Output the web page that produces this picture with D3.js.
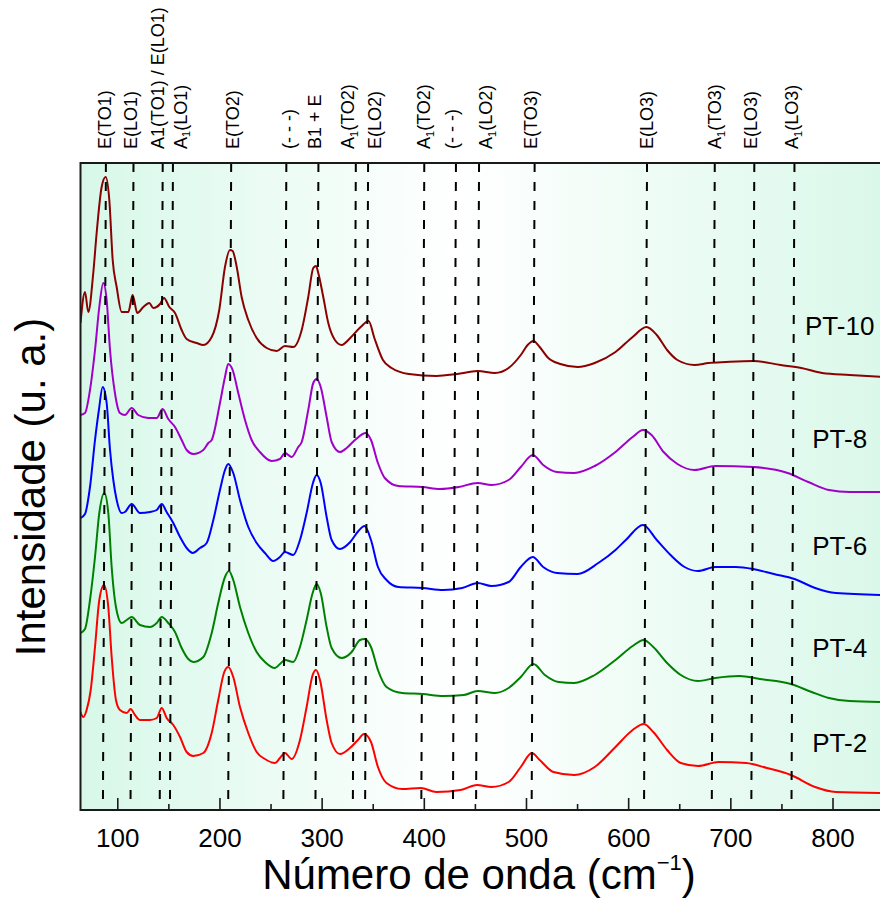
<!DOCTYPE html>
<html>
<head>
<meta charset="utf-8">
<script src="https://cdn.jsdelivr.net/npm/d3@7"></script>
<style>
  html, body { margin: 0; padding: 0; background: #fff; }
  svg { display: block; }
  text { font-family: "Liberation Sans", Arial, Helvetica, sans-serif; fill: #000; }
</style>
</head>
<body>
<svg id="chart" width="880" height="904"></svg>
<script>
// ---- Raman spectra of PT ceramics, stacked (wavenumber cm-1, intensity a.u.) ----
const sampleNames = ["PT-10", "PT-8", "PT-6", "PT-4", "PT-2"];
const sampleColors = ["#8b0000", "#a000c8", "#0000ff", "#008000", "#ff0000"];
// intensity at which each sample name is written
const sampleLabelLevel = [475, 362, 255, 153, 58];
const sampleLabelWavenumber = 807;

const pt10 = [[64,487],[68.4,518],[71.6,498],[76.5,537],[79.8,577],[84.7,623],[88.6,633],[92.2,610],[95.5,550],[99.4,523],[104.3,498],[110.8,498],[115,515],[119.6,497],[125.5,503],[131.3,507],[135.2,502],[141.8,506],[145.7,512],[150.9,503],[156.5,497],[163,480],[167.9,471],[177.7,467],[184.2,465],[192.4,473],[199.8,500],[205.4,543],[210.3,560],[212.9,559],[216.9,543],[221.7,513],[228.2,490],[236.4,472],[246.2,462],[256,459],[264.1,464],[272.2,463],[280.5,480],[286.9,513],[291.8,542],[294.5,544],[296.7,537],[301.6,513],[306.5,487],[313,470],[319.6,465],[328,472],[338.2,483],[346,489],[351.6,472],[360,450],[368.5,442],[385.4,436],[412.3,434],[432.5,436],[452.7,439],[469.6,437],[483,442],[494.9,455],[501.6,465],[507.3,469],[513.4,463],[521.8,452],[533.6,446],[550.5,443],[567.3,447],[587.6,458],[604.4,473],[617.9,483],[628,475],[638.1,460],[648.2,450],[665.1,445],[678.6,447],[695.5,448],[722.4,449],[749.3,445],[769.5,442],[789.8,437],[816.7,435],[850,433]];

const pt8 = [[64,395],[68.4,397],[73.3,420],[78.2,460],[82.4,503],[86.3,527],[89.6,510],[92.9,460],[97.7,417],[102.6,397],[107.5,395],[114.1,402],[120.5,395],[130.3,392],[138.6,392],[144.4,401],[149.9,391],[156.5,383],[163,370],[167.9,360],[174.4,356],[184.2,360],[189.1,367],[192.4,370],[200.5,407],[205.4,433],[208.6,446],[212.9,440],[218.4,417],[225,390],[231.5,370],[239.6,358],[251.1,349],[259.2,351],[264.1,357],[270.7,353],[277.1,363],[280.5,368],[286.9,400],[291.8,427],[295.1,431],[299.1,423],[304.9,393],[309.8,368],[318,358],[324.5,362],[332.6,370],[343.3,377],[348.3,370],[355.1,347],[361.8,332],[375.2,324],[398.8,323],[415.7,321],[434.2,323],[452.7,327],[466.2,325],[483,330],[494.9,343],[506.6,355],[516.8,345],[530.2,338],[547.2,337],[567.3,344],[587.6,358],[604.4,373],[614.5,380],[622.9,375],[634.7,358],[648.2,346],[665.1,340],[685.2,344],[722.4,343],[756.1,337],[776.3,328],[796.5,320],[816.7,318],[850,318]];

const pt6 = [[64,292],[68.4,296],[73.3,323],[78.2,370],[82,400],[85.7,423],[89.6,407],[92.9,360],[96.1,330],[99.4,310],[104.3,297],[107.5,298],[114.1,306],[122.2,297],[132,298],[138.6,300],[143.5,306],[148.3,298],[154.8,287],[161.4,273],[167.9,262],[173.8,257],[180.9,262],[187.5,267],[194,290],[200.5,320],[205.4,340],[208.6,346],[213.5,337],[220.1,310],[228.2,283],[236.4,267],[244.5,257],[252.7,249],[259.2,253],[264.1,258],[272.2,255],[278.8,270],[285.3,297],[291.8,328],[295.1,335],[299.1,327],[304.9,293],[309.8,270],[318,261],[328,268],[336,279],[342,284],[348.3,270],[355.1,243],[363.5,230],[375.2,223],[398.8,222],[419,220],[437.6,222],[452.7,227],[466.2,224],[483,228],[494.9,243],[506.6,253],[516.8,243],[530.2,237],[550.5,236],[570.8,247],[587.6,260],[597.7,270],[614.5,285],[628,270],[641.5,255],[655.2,243],[668.4,239],[685.2,243],[705.5,243],[722.4,241],[742.6,236],[762.8,231],[783,222],[803.3,217],[850,215]];

const pt4 = [[64,177],[68.4,181],[73.3,210],[78.2,253],[82.4,297],[87.3,317],[91.2,297],[94.5,243],[98.7,203],[104.3,187],[109.2,190],[114.1,193],[122.2,185],[132,183],[138.6,187],[143.5,193],[149.9,187],[156.5,178],[163,162],[169.5,151],[174.4,148],[184.2,153],[192.4,177],[198.8,207],[205.4,233],[209.3,239],[213.5,230],[220.1,203],[228.2,177],[236.4,158],[244.5,148],[254.3,142],[259.2,146],[264.1,150],[272.2,148],[278.8,163],[285.3,190],[291.2,217],[295.1,226],[299.1,217],[304.9,183],[309.8,162],[319.6,152],[329.4,158],[337.5,170],[342.2,171],[348.3,163],[355.1,140],[363.5,123],[378.7,117],[398.8,116],[419,114],[439.3,115],[452.7,119],[469.6,117],[483,122],[494.9,133],[507.3,146],[518.5,135],[532,128],[547.2,127],[567.3,135],[587.6,150],[604.4,164],[615.2,170],[624.6,163],[638.1,147],[651.5,135],[668.4,129],[685.2,132],[708.8,134],[729,131],[759.3,126],[779.6,118],[796.5,112],[816.7,109],[850,108]];

const pt2 = [[64,98],[66.7,93],[70,100],[74,120],[78.2,163],[82.4,210],[87,225],[91.2,203],[94.5,153],[98.7,110],[102.6,100],[109.2,97],[113.1,101],[117.3,95],[122.2,90],[132,90],[138.6,92],[143.5,102],[148.3,92],[154.8,85],[161.4,73],[167.9,58],[174.4,54],[184.2,57],[192.4,77],[198.8,110],[204.7,138],[208.6,143],[213.5,133],[220.1,103],[228.2,77],[236.4,58],[244.5,51],[254.3,47],[259.2,52],[264.1,57],[270.7,51],[278.8,70],[285.3,103],[291.2,135],[294.5,140],[298.4,130],[304.9,90],[309.8,67],[318,56],[327.7,62],[335.5,70],[341.5,76],[348.3,68],[355.1,43],[363.5,27],[378.7,21],[397.1,22],[412.3,18],[435.9,20],[452,25],[466.2,23],[483,28],[494.9,43],[505.7,57],[513.4,50],[526.9,38],[547.2,35],[567.3,43],[587.6,63],[604.4,80],[615.2,86],[624.6,78],[638.1,60],[651.5,47],[668.4,44],[688.6,48],[715.5,47],[735.8,42],[759.3,35],[783,23],[803.3,18],[850,17]];

const spectra = [pt10, pt8, pt6, pt4, pt2];

// Raman mode assignments: line position and label position (cm-1); "_1" marks a subscript
const modePositions = [87.4, 114.4, 143, 153, 210, 264, 295.4, 332, 344, 399, 430, 452.6, 507, 617, 683.3, 722, 761.3];
const modeLabels = ["E(TO1)", "E(LO1)", "A1(TO1) / E(LO1)", "A_1(LO1)", "E(TO2)", "(- - -)", "B1 + E", "A_1(TO2)", "E(LO2)", "A_1(TO2)", "(- - -)", "A_1(LO2)", "E(TO3)", "E(LO3)", "A_1(TO3)", "E(LO3)", "A_1(LO3)"];
const modeLabelPositions = [87.5, 112.9, 138.9, 161.4, 212.7, 267.4, 293.5, 325.1, 351.5, 399.5, 427.6, 460.8, 504.6, 618.1, 685, 719.5, 760];

const xMajorTicks = [100, 200, 300, 400, 500, 600, 700, 800];
const xMinorTicks = [150, 250, 350, 450, 550, 650, 750, 850];
const wavenumberRange = [64, 850];
const intensityRange = [0, 647];

const xTitle = "Número de onda (cm";
const yTitle = "Intensidade (u. a.)";

// ---- layout ----
const svg = d3.select("#chart");
const plot = { left: 80.5, right: 883.6, top: 163, bottom: 810 };
const x = d3.scaleLinear().domain(wavenumberRange).range([plot.left, plot.right]);
const y = d3.scaleLinear().domain(intensityRange).range([plot.bottom, plot.top]);

const defs = svg.append("defs");
const grad = defs.append("linearGradient").attr("id", "bgGrad")
  .attr("gradientUnits", "userSpaceOnUse")
  .attr("x1", plot.left).attr("x2", plot.right).attr("y1", 0).attr("y2", 0);
grad.append("stop").attr("offset", 0).attr("stop-color", "#d7f8e9");
grad.append("stop").attr("offset", 0.47).attr("stop-color", "#ffffff");
grad.append("stop").attr("offset", 1).attr("stop-color", "#daf8ea");

defs.append("clipPath").attr("id", "plotClip").append("rect")
  .attr("x", plot.left).attr("y", plot.top)
  .attr("width", plot.right - plot.left).attr("height", plot.bottom - plot.top);

svg.append("rect")
  .attr("x", plot.left).attr("y", plot.top)
  .attr("width", plot.right - plot.left).attr("height", plot.bottom - plot.top)
  .attr("fill", "url(#bgGrad)");

// spectra
const line = d3.line()
  .x(d => x(d[0]))
  .y(d => y(d[1]))
  .curve(d3.curveMonotoneX);

svg.append("g").attr("clip-path", "url(#plotClip)")
  .selectAll("path").data(spectra).join("path")
  .attr("d", line)
  .attr("fill", "none")
  .attr("stroke", (d, i) => sampleColors[i])
  .attr("stroke-width", 2)
  .attr("stroke-linejoin", "round");

// dashed mode markers (slightly leaning)
const lean = 3;
svg.append("g").selectAll("line").data(modePositions).join("line")
  .attr("x1", d => x(d) + lean / 2).attr("y1", plot.top)
  .attr("x2", d => x(d) - lean / 2).attr("y2", plot.bottom)
  .attr("stroke", "#000")
  .attr("stroke-width", 2)
  .attr("stroke-dasharray", "9,10");

// frame
svg.append("rect")
  .attr("x", plot.left).attr("y", plot.top)
  .attr("width", plot.right - plot.left).attr("height", plot.bottom - plot.top)
  .attr("fill", "none").attr("stroke", "#1a1a1a").attr("stroke-width", 2);

// x axis: inward ticks
const axisMajor = d3.axisBottom(x).tickValues(xMajorTicks).tickSize(-12).tickPadding(18.5).tickFormat(d3.format("d"));
const gMajor = svg.append("g").attr("transform", `translate(0,${plot.bottom})`).call(axisMajor);
gMajor.select(".domain").remove();
gMajor.selectAll(".tick line").attr("stroke", "#1a1a1a").attr("stroke-width", 1.6);
gMajor.selectAll(".tick text").attr("font-size", 26).attr("font-family", "Liberation Sans, Arial, sans-serif").attr("fill", "#000");

const axisMinor = d3.axisBottom(x).tickValues(xMinorTicks.filter(v => v <= wavenumberRange[1])).tickSize(-6).tickFormat("");
const gMinor = svg.append("g").attr("transform", `translate(0,${plot.bottom})`).call(axisMinor);
gMinor.select(".domain").remove();
gMinor.selectAll(".tick line").attr("stroke", "#1a1a1a").attr("stroke-width", 1.6);

// mode labels (vertical)
const labelBase = 149;
const labels = svg.append("g").selectAll("text").data(modeLabels).join("text")
  .attr("transform", (d, i) => `translate(${x(modeLabelPositions[i])},${labelBase}) rotate(-90)`)
  .attr("font-size", 18)
  .attr("dy", "0.36em");
labels.each(function(d) {
  const t = d3.select(this);
  const parts = d.split("_1");
  if (parts.length === 1) { t.text(d); return; }
  t.append("tspan").text(parts[0]);
  t.append("tspan").text("1").attr("font-size", 11).attr("dy", 4);
  t.append("tspan").text(parts[1]).attr("dy", -4);
});

// sample names
svg.append("g").selectAll("text").data(sampleNames).join("text")
  .attr("x", x(sampleLabelWavenumber))
  .attr("y", (d, i) => y(sampleLabelLevel[i]))
  .attr("text-anchor", "middle")
  .attr("font-size", 26)
  .text(d => d);

// axis titles
const xt = svg.append("text")
  .attr("x", 479).attr("y", 889)
  .attr("text-anchor", "middle")
  .attr("font-size", 42);
xt.append("tspan").text(xTitle);
xt.append("tspan").text("\u22121").attr("font-size", 22).attr("dy", -19);
xt.append("tspan").text(")").attr("dy", 19);

svg.append("text")
  .attr("transform", "translate(45,487) rotate(-90)")
  .attr("text-anchor", "middle")
  .attr("font-size", 42)
  .text(yTitle);
</script>
</body>
</html>
